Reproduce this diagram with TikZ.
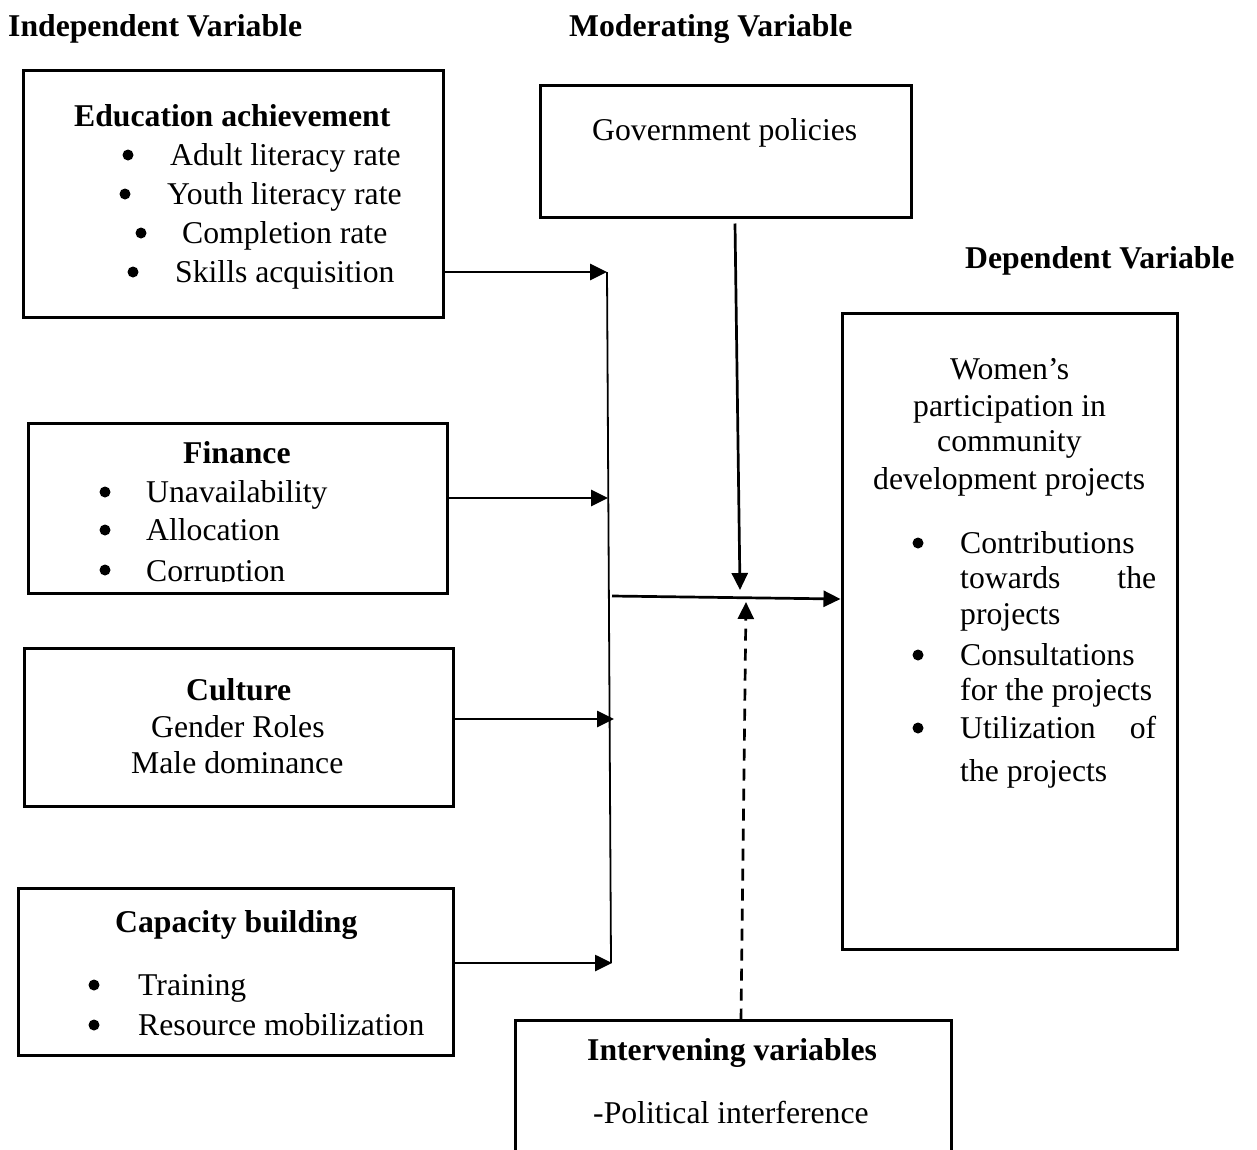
\documentclass[tikz,border=0pt]{standalone}
\usepackage{fontspec}
\setmainfont{Liberation Serif}
\usetikzlibrary{arrows.meta}
\newcommand\mybul[1]{\hspace*{#1}}
\begin{document}
\begin{tikzpicture}[x=1pt,y=-1pt,
  box/.style={draw, line width=3pt, rectangle, inner sep=0pt},
  txt/.style={anchor=base west, inner sep=0pt, font=\fontsize{31.7}{38}\selectfont},
  hd/.style={anchor=base west, inner sep=0pt, font=\fontsize{31.7}{38}\selectfont\bfseries},
  arr/.style={line width=2.7pt, -{Triangle[length=17pt,width=16pt]}},
  trunk/.style={line width=1.8pt},
  dsh/.style={arr, dash pattern=on 12pt off 8pt},
  dot/.style={fill=black}]
\useasboundingbox (0,0) rectangle (1257,1149);
\clip (0,0) rectangle (1257,1149);

% headings
\node[hd] (hind) at (8,36) {Independent Variable};
\node[hd] (hmod) at (569,36) {Moderating Variable};
\node[hd] (hdep) at (965,268) {Dependent Variable};

% Education box
\node[box, minimum width=420pt, minimum height=247pt] (edu) at (233,193.5) {};
\node[hd] (edut) at (74,126) {Education achievement};
\node[txt] (edu1) at (122.5,165) {\mybul{47.5pt}Adult literacy rate};
\node[txt] (edu2) at (119.5,204) {\mybul{47.5pt}Youth literacy rate};
\node[txt] (edu3) at (135.5,243) {\mybul{46.5pt}Completion rate};
\node[txt] (edu4) at (127.5,282) {\mybul{47.5pt}Skills acquisition};
\fill[dot] (128,155) circle (5.5);
\fill[dot] (125,194) circle (5.5);
\fill[dot] (141,233) circle (5.5);
\fill[dot] (133,272) circle (5.5);

% Finance box
\node[hd] (fint) at (183,463) {Finance};
\node[txt] (fin1) at (99.5,502) {\mybul{46.5pt}Unavailability};
\node[txt] (fin2) at (99.5,540) {\mybul{46.5pt}Allocation};
\node[txt] (fin3) at (99.5,581) {\mybul{46.5pt}Corruption};
\fill[dot] (105,492) circle (5.5);
\fill[dot] (105,530) circle (5.5);
\fill[dot] (105,570) circle (5.5);
\fill[white] (29.5,582) rectangle (445.5,592);
\node[box, minimum width=419pt, minimum height=170pt] (fin) at (237.5,508) {};

% Culture box
\node[box, minimum width=429pt, minimum height=158pt] (cul) at (238.5,727) {};
\node[hd] (cult) at (186,700) {Culture};
\node[txt] (cul1) at (151,737) {Gender Roles};
\node[txt] (cul2) at (131,773) {Male dominance};

% Capacity box
\node[box, minimum width=435pt, minimum height=167pt] (cap) at (235.5,971.5) {};
\node[hd] (capt) at (115,932) {Capacity building};
\node[txt] (cap1) at (88.5,995) {\mybul{49.5pt}Training};
\node[txt] (cap2) at (88.5,1035) {\mybul{49.5pt}Resource mobilization};
\fill[dot] (94,985) circle (5.5);
\fill[dot] (94,1025) circle (5.5);

% Government box
\node[box, minimum width=371pt, minimum height=132pt] (gov) at (725.5,151) {};
\node[txt] (govt) at (592,140) {Government policies};

% Women box
\node[box, minimum width=335pt, minimum height=636pt] (wom) at (1009.5,631) {};
\node[txt] (w1) at (950,379) {Women’s};
\node[txt] (w2) at (913,416) {participation in};
\node[txt] (w3) at (937,451) {community};
\node[txt] (w4) at (873,489) {development projects};
\node[txt] (w5) at (912.5,553) {\mybul{47.5pt}Contributions};
\node[txt] (w6) at (960,588) {\makebox[196pt][l]{towards\hfill the}};
\node[txt] (w7) at (960,624) {projects};
\node[txt] (w8) at (912.5,665) {\mybul{47.5pt}Consultations};
\node[txt] (w9) at (960,700) {for the projects};
\node[txt] (w10) at (912.5,738) {\mybul{47.5pt}\makebox[196pt][l]{Utilization\hfill of}};
\node[txt] (w11) at (960,781) {the projects};
\fill[dot] (918,543) circle (5.5);
\fill[dot] (918,655) circle (5.5);
\fill[dot] (918,728) circle (5.5);

% Intervening box
\node[box, minimum width=436pt, minimum height=140pt] (int) at (733,1090) {};
\node[hd] (intt) at (587,1060) {Intervening variables};
\node[txt] (int1) at (593,1123) {-Political interference};

% trunk coordinates
\coordinate (t1) at (607,272);
\coordinate (t2) at (608,498);
\coordinate (t3) at (614,719);
\coordinate (t4) at (612,963);
\coordinate (tb) at (611,963);
\coordinate (m) at (612,596);
\coordinate (mend) at (842,599);
\coordinate (g) at (740,590);
\coordinate (d) at (746,602);

\draw[trunk] (t1) -- (tb);
\draw[arr] (t1 -| edu.east) -- (t1);
\draw[arr] (t2 -| fin.east) -- (t2);
\draw[arr] (t3 -| cul.east) -- (t3);
\draw[arr] (t4 -| cap.east) -- (t4);
\draw[arr] (m) -- (wom.west |- mend);
\draw[arr] ([xshift=9.5pt,yshift=-5pt]gov.south) -- (g);
\draw[dsh] ([xshift=8pt,yshift=-2pt]int.north) -- (d);
\end{tikzpicture}
\end{document}
